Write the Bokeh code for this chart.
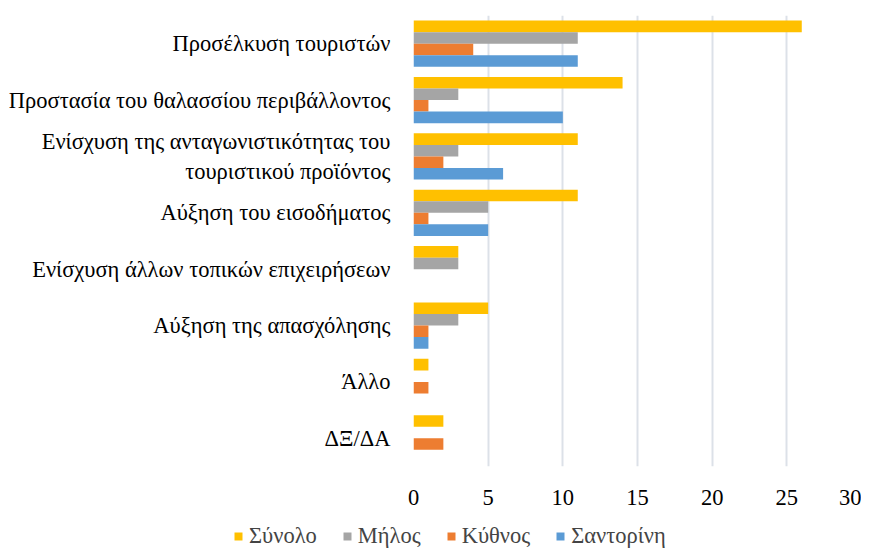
from bokeh.plotting import figure
from bokeh.models import ColumnDataSource, FactorRange, FixedTicker, Legend, LegendItem
from bokeh.transform import dodge
from bokeh.embed import file_html
from bokeh.resources import INLINE

categories = [
    "Προσέλκυση τουριστών",
    "Προστασία του θαλασσίου περιβάλλοντος",
    "Ενίσχυση της ανταγωνιστικότητας του\nτουριστικού προϊόντος",
    "Αύξηση του εισοδήματος",
    "Ενίσχυση άλλων τοπικών επιχειρήσεων",
    "Αύξηση της απασχόλησης",
    "Άλλο",
    "ΔΞ/ΔΑ",
]
synolo = [26, 14, 11, 11, 3, 5, 1, 2]
milos = [11, 3, 3, 5, 3, 3, 0, 0]
kythnos = [4, 1, 2, 1, 0, 1, 1, 2]
santorini = [11, 10, 6, 5, 0, 1, 0, 0]
series_names = ["Σύνολο", "Μήλος", "Κύθνος", "Σαντορίνη"]
series_colors = ["#FFC000", "#A5A5A5", "#ED7D31", "#5B9BD5"]
x_ticks = [0, 5, 10, 15, 20, 25, 30]

FONT = "Liberation Serif"
FS = "22.5px"

source = ColumnDataSource(dict(cat=categories, s0=synolo, s1=milos, s2=kythnos, s3=santorini))

p = figure(
    width=861, height=515,
    y_range=FactorRange(factors=categories[::-1]),
    x_range=(0, 30),
    output_backend="svg", toolbar_location=None,
    min_border_left=413, min_border_top=15, min_border_right=0, min_border_bottom=49,
)
p.outline_line_color = None

bar_h = 0.205
offsets = [1.5 * bar_h, 0.5 * bar_h, -0.5 * bar_h, -1.5 * bar_h]
for i, color in enumerate(series_colors):
    p.hbar(y=dodge("cat", offsets[i], range=p.y_range), right="s%d" % i, left=0,
           height=bar_h, source=source, fill_color=color, line_color=None)

p.xgrid.ticker = FixedTicker(ticks=x_ticks)
p.xgrid.grid_line_color = "#DCE1E8"
p.xgrid.grid_line_width = 2
p.ygrid.grid_line_color = None

p.xaxis.ticker = FixedTicker(ticks=x_ticks)
p.xaxis.axis_line_color = None
p.xaxis.major_tick_line_color = None
p.xaxis.minor_tick_line_color = None
p.xaxis.major_label_text_font = FONT
p.xaxis.major_label_text_font_size = FS
p.xaxis.major_label_text_color = "#000000"
p.xaxis.major_label_standoff = 17

p.yaxis.axis_line_color = None
p.yaxis.major_tick_line_color = None
p.yaxis.minor_tick_line_color = None
p.yaxis.major_label_text_font = FONT
p.yaxis.major_label_text_font_size = FS
p.yaxis.major_label_text_color = "#000000"
p.yaxis.major_label_standoff = 17

# legend strip (zero-height bars from the same data, only the legend shows)
p2 = figure(width=861, height=34, x_range=(0, 30),
            y_range=FactorRange(factors=categories[::-1]),
            x_axis_location=None, y_axis_location=None,
            output_backend="svg", toolbar_location=None, min_border=0)
p2.grid.grid_line_color = None
p2.outline_line_color = None
items = []
for i, (name, color) in enumerate(zip(series_names, series_colors)):
    r = p2.hbar(y="cat", right="s%d" % i, left=0, height=0, source=source,
                fill_color=color, line_color=None)
    items.append(LegendItem(label=name, renderers=[r]))

legend = Legend(
    items=items,
    orientation="horizontal",
    location=(233, 0),
    label_text_font=FONT,
    label_text_font_size=FS,
    glyph_width=10, glyph_height=10,
    label_standoff=6, spacing=25, padding=0, margin=0,
    border_line_color=None, background_fill_alpha=0,
)
p2.add_layout(legend, "center")

open("out.html", "w").write(file_html([p, p2], INLINE))
